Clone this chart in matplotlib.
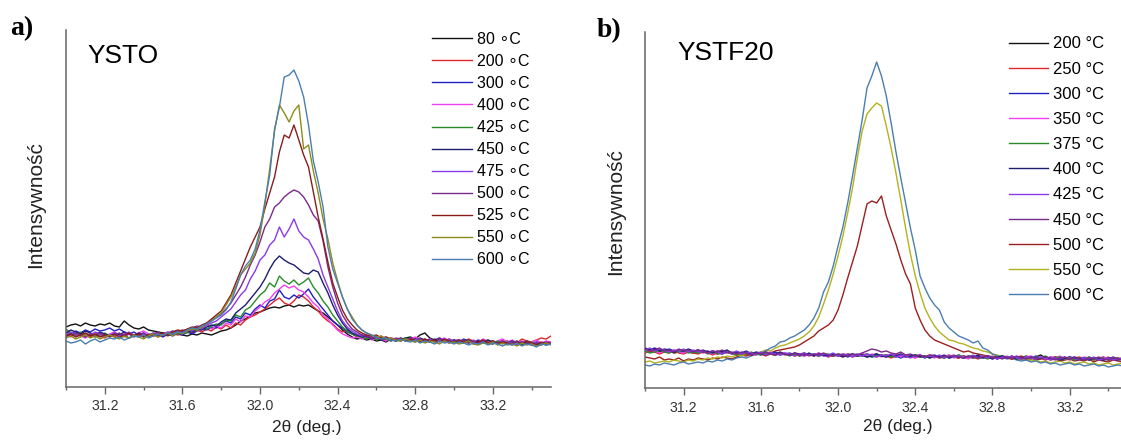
import numpy as np
import matplotlib.pyplot as plt
from matplotlib.ticker import FormatStrFormatter

plt.rcParams['font.family'] = ['Liberation Sans', 'DejaVu Sans']

# 2theta scan grid (deg.), 0.025 deg step
two_theta = np.linspace(31.0, 33.5, 101)

# ---------------- a) YSTO  (intensity, arb. units) ----------------
ysto_80 = [
    60, 62, 63, 61, 64, 62, 61, 63, 62, 64,
    61, 60, 66, 62, 59, 58, 60, 57, 56, 55,
    54, 53, 52, 53, 52, 51, 53, 52, 54, 53,
    52, 54, 56, 57, 59, 62, 66, 68, 71, 74,
    75, 77, 79, 80, 79, 81, 82, 80, 82, 81,
    82, 79, 76, 74, 70, 66, 62, 57, 53, 50,
    48, 49, 47, 48, 46, 47, 45, 48, 46, 47,
    49, 50, 48, 52, 54, 49, 47, 46, 48, 45,
    46, 47, 45, 44, 46, 45, 47, 44, 43, 45,
    44, 46, 43, 44, 45, 43, 44, 42, 44, 43,
    44]
ysto_200 = [
    50, 53, 51, 54, 52, 50, 53, 51, 49, 52,
    50, 53, 51, 49, 52, 54, 51, 53, 52, 50,
    53, 51, 54, 52, 53, 55, 54, 57, 55, 58,
    56, 60, 58, 62, 59, 64, 62, 67, 70, 72,
    75, 78, 82, 86, 89, 84, 82, 86, 92, 90,
    86, 80, 76, 70, 66, 63, 58, 55, 57, 53,
    50, 52, 49, 50, 48, 51, 47, 49, 48, 46,
    48, 47, 49, 46, 48, 45, 47, 49, 46, 48,
    46, 47, 45, 48, 46, 44, 47, 45, 46, 44,
    47, 45, 46, 44, 48, 46, 45, 47, 49, 48,
    51]
ysto_300 = [
    55, 53, 56, 54, 57, 55, 58, 56, 57, 59,
    56, 58, 55, 53, 55, 52, 54, 51, 53, 52,
    50, 53, 51, 54, 52, 55, 53, 56, 58, 57,
    60, 59, 63, 66, 64, 70, 68, 74, 72, 78,
    82, 79, 86, 88, 97, 90, 88, 92, 89, 93,
    98, 90, 84, 78, 72, 66, 62, 59, 55, 53,
    51, 52, 50, 48, 50, 47, 49, 46, 48, 47,
    49, 46, 48, 47, 45, 48, 46, 49, 47, 45,
    47, 45, 48, 46, 44, 47, 45, 43, 46, 44,
    45, 43, 46, 44, 42, 45, 43, 44, 42, 45,
    44]
ysto_400 = [
    52, 50, 53, 51, 49, 52, 50, 54, 51, 53,
    55, 52, 50, 53, 51, 54, 56, 53, 51, 54,
    52, 55, 53, 54, 56, 55, 58, 56, 57, 63,
    58, 61, 59, 64, 62, 68, 65, 71, 70, 76,
    80, 85, 88, 94, 98, 102, 99, 101, 97, 95,
    90, 84, 80, 72, 68, 62, 57, 53, 51, 49,
    50, 48, 51, 47, 49, 48, 46, 49, 47, 48,
    46, 48, 50, 47, 45, 48, 46, 47, 49, 46,
    45, 47, 46, 44, 47, 45, 48, 46, 44, 46,
    48, 45, 47, 44, 46, 43, 45, 47, 44, 46,
    45]
ysto_425 = [
    58, 54, 52, 55, 51, 53, 50, 52, 54, 51,
    53, 50, 52, 49, 51, 53, 50, 52, 54, 51,
    53, 52, 54, 53, 55, 54, 57, 56, 59, 58,
    61, 63, 62, 67, 66, 72, 70, 77, 80, 86,
    92, 96, 104, 100, 111, 106, 103, 107, 102, 105,
    109, 100, 94, 86, 80, 72, 66, 60, 56, 53,
    51, 50, 48, 50, 47, 49, 48, 46, 48, 47,
    49, 47, 46, 48, 45, 47, 46, 48, 45, 47,
    46, 44, 47, 45, 46, 43, 45, 47, 44, 46,
    43, 45, 44, 46, 42, 44, 45, 43, 44, 42,
    43]
ysto_450 = [
    54, 57, 55, 53, 56, 54, 52, 55, 53, 51,
    54, 52, 55, 53, 51, 54, 52, 50, 53, 51,
    54, 52, 53, 55, 54, 56, 55, 58, 57, 60,
    62, 61, 65, 68, 67, 74, 78, 82, 88, 94,
    100, 108, 118, 126, 131, 127, 124, 122, 118, 114,
    113, 117, 115, 104, 94, 82, 72, 64, 58, 54,
    52, 50, 51, 48, 50, 47, 49, 48, 46, 49,
    47, 48, 46, 49, 47, 45, 48, 46, 47, 45,
    47, 46, 44, 47, 45, 46, 44, 47, 45, 43,
    45, 44, 46, 43, 45, 44, 42, 45, 43, 44,
    43]
ysto_475 = [
    52, 55, 53, 51, 54, 52, 55, 53, 50, 52,
    54, 51, 53, 55, 52, 50, 53, 51, 54, 52,
    53, 55, 52, 56, 54, 57, 56, 59, 58, 62,
    64, 66, 70, 74, 78, 85, 92, 97, 108, 116,
    127, 132, 142, 147, 160, 150, 158, 168, 156, 150,
    147, 138, 128, 112, 100, 88, 76, 66, 60, 56,
    53, 51, 52, 49, 50, 48, 50, 47, 49, 48,
    46, 49, 47, 48, 46, 48, 45, 47, 46, 48,
    45, 47, 44, 46, 45, 43, 46, 44, 45, 43,
    46, 44, 45, 42, 44, 46, 43, 45, 44, 42,
    44]
ysto_500 = [
    53, 51, 54, 52, 50, 53, 51, 54, 52, 50,
    52, 54, 51, 53, 50, 52, 54, 51, 53, 55,
    52, 54, 56, 55, 57, 56, 59, 61, 60, 64,
    66, 70, 73, 78, 84, 92, 100, 110, 122, 132,
    145, 160, 168, 180, 184, 190, 194, 197, 195, 190,
    182, 172, 166, 146, 120, 100, 84, 72, 64, 58,
    55, 52, 51, 49, 50, 48, 49, 47, 48, 46,
    48, 47, 45, 48, 46, 47, 45, 48, 46, 44,
    46, 45, 47, 44, 46, 44, 45, 43, 46, 44,
    45, 43, 44, 46, 43, 45, 42, 44, 43, 45,
    43]
ysto_525 = [
    51, 53, 50, 52, 54, 51, 53, 50, 52, 51,
    53, 50, 52, 54, 51, 53, 50, 52, 51, 53,
    54, 52, 55, 57, 56, 58, 60, 59, 62, 64,
    68, 72, 76, 84, 92, 104, 116, 128, 140, 150,
    160, 178, 194, 210, 235, 252, 249, 262, 247, 232,
    220, 195, 170, 148, 125, 104, 90, 77, 68, 62,
    57, 54, 52, 51, 52, 49, 50, 48, 47, 49,
    46, 48, 47, 45, 48, 46, 47, 45, 48, 46,
    44, 47, 45, 46, 43, 45, 47, 44, 46, 43,
    45, 44, 42, 45, 43, 46, 44, 42, 45, 43,
    44]
ysto_550 = [
    49, 51, 48, 50, 52, 49, 51, 48, 50, 52,
    50, 48, 51, 49, 52, 50, 48, 51, 53, 50,
    52, 54, 51, 55, 53, 56, 58, 57, 60, 63,
    66, 70, 74, 82, 90, 100, 112, 118, 124, 134,
    152, 182, 218, 256, 282, 274, 265, 276, 282, 238,
    242, 216, 194, 168, 148, 124, 106, 90, 78, 70,
    62, 57, 54, 52, 50, 51, 48, 49, 47, 46,
    48, 46, 45, 47, 44, 46, 45, 43, 46, 44,
    45, 43, 44, 46, 43, 42, 44, 43, 45, 42,
    44, 42, 43, 41, 44, 42, 43, 41, 42, 44,
    42]
ysto_600 = [
    46, 44, 45, 47, 43, 46, 48, 45, 47, 49,
    48, 50, 47, 49, 51, 50, 52, 49, 51, 53,
    52, 54, 53, 55, 54, 57, 59, 58, 61, 63,
    66, 69, 72, 77, 85, 98, 112, 121, 127, 138,
    157, 185, 212, 258, 280, 310, 312, 317, 306, 290,
    262, 226, 205, 180, 140, 118, 104, 90, 78, 68,
    62, 57, 54, 52, 50, 48, 49, 47, 46, 48,
    46, 45, 47, 44, 46, 45, 43, 46, 44, 45,
    43, 45, 44, 42, 44, 43, 45, 42, 44, 43,
    41, 43, 42, 44, 41, 43, 42, 40, 43, 42,
    43]

ysto_temps = [80, 200, 300, 400, 425, 450, 475, 500, 525, 550, 600]
ysto_series = [ysto_80, ysto_200, ysto_300, ysto_400, ysto_425, ysto_450,
               ysto_475, ysto_500, ysto_525, ysto_550, ysto_600]
ysto_colors = ['#111111', '#E0262A', '#2020C0', '#F040F0', '#2A8A2A', '#1E1E6E',
               '#8A3AEA', '#7A2A8A', '#8A1C1C', '#8C8C1A', '#4A7EB0']

# ---------------- b) YSTF20 ----------------
ystf_200 = [
    37, 36, 38, 37, 36, 37, 35, 36, 37, 36,
    35, 36, 37, 35, 36, 34, 35, 36, 34, 35,
    34, 35, 33, 34, 35, 33, 34, 33, 35, 34,
    33, 34, 32, 33, 34, 33, 32, 34, 33, 32,
    33, 32, 34, 33, 32, 33, 31, 33, 34, 32,
    33, 32, 31, 33, 32, 31, 33, 32, 31, 32,
    31, 32, 30, 32, 31, 30, 32, 31, 30, 31,
    32, 30, 31, 30, 32, 31, 29, 31, 30, 32,
    30, 31, 33, 30, 29, 31, 30, 29, 31, 30,
    29, 30, 28, 30, 29, 31, 28, 29, 30, 28,
    29]
ystf_250 = [
    35, 37, 36, 34, 36, 35, 37, 35, 34, 36,
    35, 34, 36, 35, 33, 35, 34, 36, 35, 33,
    35, 34, 33, 35, 34, 32, 34, 33, 35, 33,
    34, 32, 33, 35, 33, 32, 34, 33, 31, 33,
    32, 34, 33, 31, 33, 32, 34, 32, 31, 33,
    32, 30, 32, 33, 31, 32, 30, 32, 31, 33,
    32, 30, 31, 33, 31, 30, 32, 30, 31, 29,
    31, 30, 32, 29, 31, 30, 29, 31, 32, 30,
    29, 31, 30, 28, 30, 31, 29, 30, 28, 30,
    31, 29, 30, 28, 30, 29, 31, 28, 30, 29,
    28]
ystf_300 = [
    39, 38, 40, 38, 37, 39, 37, 38, 36, 38,
    37, 36, 38, 36, 37, 35, 37, 36, 34, 36,
    35, 36, 34, 35, 33, 35, 34, 36, 33, 34,
    35, 33, 34, 32, 34, 33, 35, 32, 33, 34,
    32, 33, 31, 33, 34, 32, 33, 31, 32, 33,
    31, 33, 32, 30, 32, 33, 31, 32, 30, 32,
    33, 31, 32, 30, 31, 33, 31, 30, 32, 31,
    30, 32, 31, 29, 31, 30, 32, 30, 29, 31,
    30, 32, 30, 29, 31, 30, 28, 30, 31, 29,
    30, 28, 31, 29, 30, 28, 29, 31, 29, 30,
    29]
ystf_350 = [
    36, 38, 37, 35, 37, 36, 38, 36, 35, 37,
    36, 38, 35, 36, 34, 37, 35, 36, 34, 36,
    34, 36, 35, 33, 35, 34, 36, 33, 34, 35,
    33, 35, 34, 32, 34, 33, 35, 33, 31, 34,
    33, 31, 34, 32, 33, 35, 32, 34, 33, 31,
    33, 32, 34, 31, 33, 32, 30, 33, 31, 32,
    30, 32, 31, 33, 30, 32, 31, 29, 32, 30,
    32, 31, 29, 31, 30, 32, 30, 31, 29, 31,
    32, 30, 31, 29, 31, 30, 32, 29, 30, 31,
    29, 31, 30, 28, 30, 31, 29, 30, 28, 30,
    29]
ystf_375 = [
    37, 35, 36, 38, 36, 35, 37, 36, 38, 35,
    36, 35, 37, 34, 36, 35, 34, 36, 35, 33,
    35, 34, 36, 34, 33, 35, 34, 33, 35, 34,
    32, 34, 33, 35, 33, 34, 32, 33, 34, 32,
    34, 33, 32, 34, 32, 33, 34, 31, 33, 32,
    33, 31, 32, 34, 32, 31, 33, 31, 32, 30,
    32, 31, 30, 32, 31, 33, 30, 31, 32, 30,
    31, 29, 31, 30, 32, 30, 31, 29, 30, 31,
    29, 31, 30, 32, 29, 30, 31, 29, 30, 28,
    30, 29, 31, 28, 29, 30, 28, 30, 29, 28,
    29]
ystf_400 = [
    40, 38, 39, 37, 39, 38, 36, 38, 37, 39,
    37, 38, 36, 37, 35, 37, 36, 38, 35, 36,
    35, 37, 34, 36, 35, 33, 35, 34, 36, 34,
    33, 35, 34, 33, 35, 32, 34, 33, 32, 34,
    33, 31, 33, 34, 32, 33, 31, 32, 34, 32,
    31, 33, 32, 34, 31, 32, 33, 31, 32, 30,
    32, 31, 33, 30, 32, 31, 30, 32, 31, 33,
    30, 31, 29, 31, 32, 30, 31, 29, 31, 30,
    31, 29, 30, 31, 29, 30, 28, 30, 29, 31,
    29, 30, 28, 30, 29, 28, 30, 29, 28, 29,
    28]
ystf_425 = [
    38, 40, 37, 39, 38, 36, 38, 37, 39, 36,
    38, 36, 37, 35, 37, 36, 34, 36, 35, 37,
    34, 36, 35, 34, 36, 33, 35, 34, 33, 35,
    34, 32, 34, 35, 33, 34, 32, 34, 33, 35,
    32, 34, 33, 31, 33, 32, 34, 33, 31, 33,
    32, 34, 31, 33, 32, 30, 32, 33, 31, 32,
    31, 33, 30, 32, 31, 32, 30, 31, 33, 30,
    32, 30, 31, 29, 31, 30, 32, 30, 29, 31,
    30, 29, 31, 30, 28, 30, 29, 31, 29, 30,
    28, 30, 29, 31, 28, 29, 30, 28, 29, 30,
    28]
ystf_450 = [
    39, 37, 38, 40, 37, 38, 36, 39, 37, 38,
    36, 38, 37, 35, 37, 36, 38, 35, 36, 34,
    36, 35, 33, 35, 34, 36, 34, 33, 35, 34,
    33, 35, 33, 34, 32, 34, 33, 35, 33, 32,
    34, 33, 32, 34, 33, 35, 37, 39, 38, 36,
    37, 35, 34, 36, 33, 34, 32, 33, 31, 33,
    32, 30, 32, 31, 33, 31, 30, 32, 31, 30,
    31, 32, 30, 31, 29, 31, 30, 32, 30, 29,
    31, 30, 29, 31, 30, 28, 30, 31, 29, 30,
    29, 28, 30, 29, 31, 29, 28, 30, 29, 28,
    29]
ystf_500 = [
    31, 30, 29, 31, 28, 29, 28, 30, 27, 29,
    28, 30, 29, 28, 30, 29, 31, 30, 29, 31,
    33, 32, 34, 33, 35, 36, 35, 37, 38, 39,
    40, 41, 43, 46, 49, 52, 57, 60, 63, 68,
    78, 93, 110, 126, 142, 163, 184, 187, 185, 192,
    172, 158, 144, 128, 114, 104, 80, 68, 58, 52,
    48, 46, 44, 42, 40, 38, 36, 37, 35, 34,
    33, 32, 31, 32, 30, 31, 29, 30, 29, 28,
    30, 28, 29, 30, 28, 29, 27, 28, 29, 27,
    28, 27, 29, 26, 28, 27, 26, 28, 27, 26,
    27]
ystf_550 = [
    26, 27, 25, 26, 27, 26, 28, 27, 26, 28,
    27, 29, 28, 30, 29, 31, 30, 32, 31, 33,
    32, 34, 35, 34, 36, 38, 37, 40, 42, 43,
    45, 47, 49, 52, 56, 62, 71, 84, 98, 114,
    132, 152, 175, 200, 230, 257, 274, 280, 285, 282,
    262, 240, 215, 188, 160, 134, 112, 95, 80, 70,
    62, 56, 52, 48, 47, 45, 44, 42, 40, 39,
    37, 36, 34, 33, 31, 30, 31, 29, 28, 29,
    27, 28, 26, 27, 25, 26, 27, 25, 26, 24,
    25, 26, 24, 25, 23, 24, 25, 23, 24, 25,
    24]
ystf_600 = [
    23, 22, 24, 23, 25, 24, 23, 25, 26, 24,
    25, 26, 25, 27, 26, 28, 27, 29, 28, 30,
    31, 30, 32, 34, 35, 37, 40, 42, 46, 47,
    50, 52, 55, 58, 63, 70, 80, 96, 106, 122,
    142, 161, 185, 212, 240, 268, 300, 312, 326, 312,
    292, 265, 236, 210, 185, 160, 138, 112, 100, 90,
    83, 78, 66, 60, 56, 52, 50, 48, 45, 47,
    40, 38, 34, 32, 31, 29, 30, 28, 27, 28,
    26, 27, 25, 26, 24, 25, 23, 24, 25, 23,
    24, 22, 23, 24, 22, 23, 21, 22, 23, 22,
    23]

ystf_temps = [200, 250, 300, 350, 375, 400, 425, 450, 500, 550, 600]
ystf_series = [ystf_200, ystf_250, ystf_300, ystf_350, ystf_375, ystf_400,
               ystf_425, ystf_450, ystf_500, ystf_550, ystf_600]
ystf_colors = ['#111111', '#E0262A', '#2020C0', '#F040F0', '#2A8A2A', '#1E1E6E',
               '#8A3AEA', '#7A2A8A', '#9A2020', '#B2B21E', '#4A7EB0']

W, H = 1121, 443
fig = plt.figure(figsize=(W / 100, H / 100), dpi=100)
fig.patch.set_facecolor('white')
ax1 = fig.add_axes([66 / W, (H - 387) / H, 485 / W, 357 / H])
ax2 = fig.add_axes([645 / W, (H - 388) / H, 482.6 / W, 356 / H])


def style(ax, ymax):
    ax.set_xlim(31.0, 33.5)
    ax.set_ylim(0, ymax)
    for s in ['top', 'right']:
        ax.spines[s].set_visible(False)
    for s in ['left', 'bottom']:
        ax.spines[s].set_color('#666666')
        ax.spines[s].set_linewidth(1.1)
    ax.set_yticks([])
    ax.set_xticks(np.round(np.arange(31.2, 33.3, 0.4), 1))
    ax.set_xticks(np.round(np.arange(31.0, 33.5, 0.4), 1), minor=True)
    ax.xaxis.set_major_formatter(FormatStrFormatter('%.1f'))
    ax.tick_params(axis='x', which='major', length=5, width=1, color='#666666',
                   labelsize=10.2, labelcolor='#333333', pad=4)
    ax.tick_params(axis='x', which='minor', length=2.5, width=1, color='#666666')
    ax.set_xlabel('2\u03b8 (deg.)', fontsize=12.5, color='#222222')
    ax.set_ylabel('Intensywno\u015b\u0107', fontsize=15, color='#222222')


# panel a
for t, y, c in zip(ysto_temps, ysto_series, ysto_colors):
    ax1.plot(two_theta, y, color=c, lw=1.0, label=f'{t} \u2218C')
style(ax1, 357)
ax1.xaxis.set_label_coords((307 - 66) / 485, (387 - 420) / 357)
ax1.yaxis.set_label_coords((45 - 66) / 485, (387 - 205) / 357)
ax1.legend(loc='upper left', bbox_to_anchor=(432 / W, (H - 32) / H),
           bbox_transform=fig.transFigure, frameon=False, fontsize=11.5,
           handlelength=2.5, handletextpad=0.31, labelspacing=0.44,
           borderpad=0, borderaxespad=0)

# panel b
for t, y, c in zip(ystf_temps, ystf_series, ystf_colors):
    z = 3 if t < 500 else 2
    ax2.plot(two_theta, y, color=c, lw=1.0, label=f'{t} \u00b0C', zorder=z)
style(ax2, 356)
ax2.xaxis.set_label_coords((898 - 645) / 482.6, (388 - 419) / 356)
ax2.yaxis.set_label_coords((625 - 645) / 482.6, (388 - 212) / 356)
ax2.legend(loc='upper left', bbox_to_anchor=(1009 / W, (H - 36.5) / H),
           bbox_transform=fig.transFigure, frameon=False, fontsize=12,
           handlelength=2.34, handletextpad=0.3, labelspacing=0.61,
           borderpad=0, borderaxespad=0)

fig.text(10 / W, 1 - 35 / H, 'a)', family='Liberation Serif', fontweight='bold',
         fontsize=20, va='baseline')
fig.text(597 / W, 1 - 37 / H, 'b)', family='Liberation Serif', fontweight='bold',
         fontsize=20, va='baseline')
fig.text(87 / W, 1 - 63 / H, 'YSTO', fontsize=19, va='baseline')
fig.text(677 / W, 1 - 60 / H, 'YSTF20', fontsize=19, va='baseline')

fig.savefig('out.png', dpi=100)
